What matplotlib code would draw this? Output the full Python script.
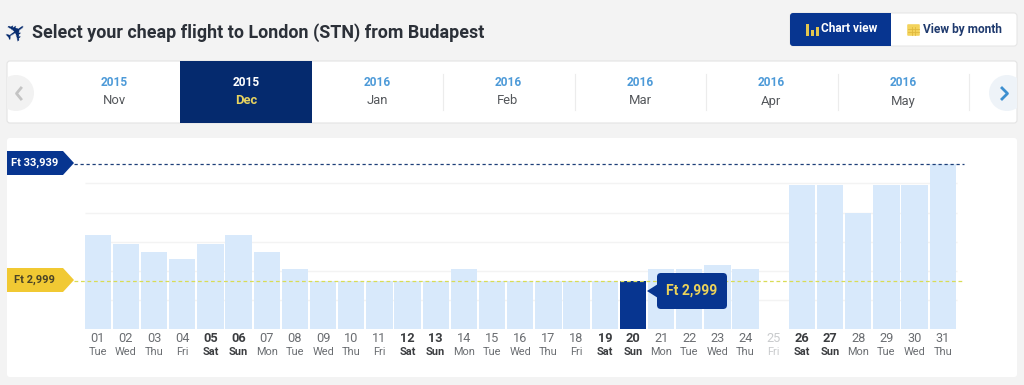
import matplotlib
matplotlib.use("Agg")
import matplotlib.pyplot as plt
from matplotlib.patches import FancyBboxPatch, Rectangle, Polygon, Circle

days = list(range(1, 32))
weekdays = ["Tue","Wed","Thu","Fri","Sat","Sun","Mon","Tue","Wed","Thu","Fri","Sat","Sun","Mon","Tue",
            "Wed","Thu","Fri","Sat","Sun","Mon","Tue","Wed","Thu","Fri","Sat","Sun","Mon","Tue","Wed","Thu"]
prices = [15100,12740,10720,8700,12740,15100,10720,6160,2999,2999,2999,2999,2999,6160,2999,
          2999,2999,2999,2999,2999,6160,6160,7210,6160,None,28300,28300,20990,28300,28300,33939]
selected_day = 20
unavailable_day = 25
max_price = 33939
min_price = 2999
grid_values = [28673, 20984, 13300, 5700, -1920]
axis_floor = -9720
month_years = ["2015","2015","2016","2016","2016","2016","2016"]
month_names = ["Nov","Dec","Jan","Feb","Mar","Apr","May"]
month_x = [114,246,377,508,640,771,903]
divider_x = [443,575,706,838,969]

NAVY = "#073590"; DEEP = "#052a6e"; YEL = "#f1c933"; LIGHT = "#d8e9fb"; BG = "#f3f3f3"
INK = "#2b3038"; GREY = "#66696d"; BLUE = "#4d9ad8"
plt.rcParams["font.family"] = ["Roboto", "DejaVu Sans"]

W, H = 1024, 385
fig = plt.figure(figsize=(W/100, H/100), dpi=100, facecolor=BG)

def pix_axes(z):
    a = fig.add_axes([0, 0, 1, 1], zorder=z)
    a.set_xlim(0, W); a.set_ylim(H, 0); a.axis("off"); a.patch.set_alpha(0)
    return a

bg = pix_axes(0)
def panel(a, x0, y0, x1, y1, color, r=3, ec="none", z=1):
    a.add_patch(FancyBboxPatch((x0+r, y0+r), x1-x0-2*r, y1-y0-2*r, boxstyle=f"round,pad={r},rounding_size={r}",
                               fc=color, ec=ec, lw=0.8, zorder=z))

# header
bg.text(17, 33, "✈", family="DejaVu Sans", fontsize=19, color=DEEP, ha="center", va="center", rotation=35)
bg.text(32, 32.5, "Select your cheap flight to London (STN) from Budapest", fontsize=12.9, fontweight="bold",
        color=INK, ha="left", va="center")
# view buttons
panel(bg, 790, 13, 1017, 46, "white", ec="#e6e6e6")
panel(bg, 790, 13, 891, 46, NAVY)
bg.add_patch(Rectangle((886, 13), 5, 33, fc=NAVY, ec="none", zorder=2))
for x, y in [(806, 24), (811, 30), (816, 27)]:
    bg.add_patch(Rectangle((x, y), 2.5, 36-y, fc="#e3c64f", ec="none", zorder=3))
bg.text(821, 29, "Chart view", fontsize=8.6, fontweight="bold", color="white", va="center", zorder=3)
bg.add_patch(FancyBboxPatch((908, 25), 11, 10, boxstyle="round,pad=0.8,rounding_size=1", fc="#f3d35c", ec="none", zorder=3))
for gx in (911.5, 915):
    bg.plot([gx, gx], [27, 35], color="#e0b93f", lw=0.6, zorder=4)
for gy in (28.5, 31.5):
    bg.plot([908, 919], [gy, gy], color="#e0b93f", lw=0.6, zorder=4)
bg.text(923, 29, "View by month", fontsize=8.6, fontweight="bold", color="#1f3a6e", va="center", zorder=3)

# month strip
panel(bg, 7, 61, 1017, 123, "white", ec="#e4e4e4")
bg.add_patch(Rectangle((180, 61), 132, 62, fc=DEEP, ec="none", zorder=2))
for x in divider_x:
    bg.plot([x, x], [74, 110], color="#ececec", lw=0.8, zorder=2)
for x, yr, mo in zip(month_x, month_years, month_names):
    active = mo == "Dec"
    bg.text(x, 82, yr, fontsize=8.6, fontweight="bold", color="white" if active else BLUE, ha="center", va="center", zorder=3)
    bg.text(x, 101, mo, fontsize=9.4, fontweight="bold" if active else "normal", color="#e8d35f" if active else "#55585c",
            ha="center", va="center", zorder=3)
c1 = Circle((16, 93), 18, fc="#f2f2f2", ec="none", zorder=2); bg.add_patch(c1)
c1.set_clip_path(Rectangle((7, 61), 1010, 62, transform=bg.transData))
c2 = Circle((1007, 93), 18, fc="#eef3f8", ec="none", zorder=2); bg.add_patch(c2)
c2.set_clip_path(Rectangle((7, 61), 1010, 62, transform=bg.transData))
bg.plot([21, 16.5, 21], [88, 93.5, 99], color="#c4c4c4", lw=2, zorder=3)
bg.plot([1002, 1007.5, 1002], [88, 93.5, 99], color="#3d8fd0", lw=2, zorder=3)

# chart panel
panel(bg, 7, 138, 1017, 377, "white")

# chart axes: x from 74 to 964 px, y from 163.5 to 329.3 px
ax = fig.add_axes([74/W, 1-329.3/H, (964-74)/W, (329.3-163.5)/H], zorder=1)
ax.patch.set_alpha(0)
pitch, first = 28.17, 97.7
ax.set_xlim(1+(74-first)/pitch, 1+(964-first)/pitch)
ax.set_ylim(axis_floor, max_price)
for s in ax.spines.values():
    s.set_visible(False)
ax.hlines(grid_values, 0.55, 31.5, color="#f3f3f3", lw=1, zorder=1)
heights = [0 if p is None else p-axis_floor for p in prices]
colors = [NAVY if d == selected_day else LIGHT for d in days]
ax.bar(days, heights, bottom=axis_floor, width=0.935, color=colors, zorder=2)
xlo, xhi = ax.get_xlim()
ax.hlines(max_price, xlo, xhi, color="#1d3f78", lw=0.9, linestyles=(0, (2.6, 2.2)), zorder=3, clip_on=False)
ax.hlines(min_price, xlo, xhi, color="#d9dc55", lw=0.9, linestyles=(0, (3, 2.2)), zorder=3)
ax.set_yticks([])
ax.set_xticks(days, [f"{d:02d}" for d in days])
ax.tick_params(axis="x", length=0, pad=2.2, labelsize=9.2, labelcolor="#6b6e72")
for d, lab, wd in zip(days, ax.get_xticklabels(), weekdays):
    weekend = wd in ("Sat", "Sun")
    col = "#c9cbcd" if d == unavailable_day else ("#3b3d40" if weekend else "#6b6e72")
    lab.set_color(col)
    if weekend:
        lab.set_fontweight("bold")
    ax.annotate(wd, (d, 0), xycoords=ax.get_xaxis_transform(), xytext=(0, -22.5), textcoords="offset pixels",
                ha="center", va="center", fontsize=7.9, color=col, fontweight="bold" if weekend else "normal",
                annotation_clip=False)

# overlay: tags and tooltip
ov = pix_axes(2)
def tag(y0, y1, color, text, tc, cx):
    ym = (y0+y1)/2
    ov.add_patch(Polygon([(7, y0), (63, y0), (74, ym), (63, y1), (7, y1)], fc=color, ec="none"))
    ov.text(cx, ym-0.5, text, fontsize=8, fontweight="bold", color=tc, ha="center", va="center")
tag(151, 175, NAVY, f"Ft {max_price:,}", "white", 34.5)
tag(268, 292, YEL, f"Ft {min_price:,}", "#4a4326", 34.5)
ov.add_patch(Polygon([(647, 291), (658, 284), (658, 298)], fc=NAVY, ec="none"))
panel(ov, 657, 273, 727, 309, NAVY, r=4)
ov.text(692, 291, f"Ft {min_price:,}", fontsize=10, fontweight="bold", color="#ecd35a", ha="center", va="center", zorder=3)

fig.savefig("out.png", dpi=100, facecolor=BG)
